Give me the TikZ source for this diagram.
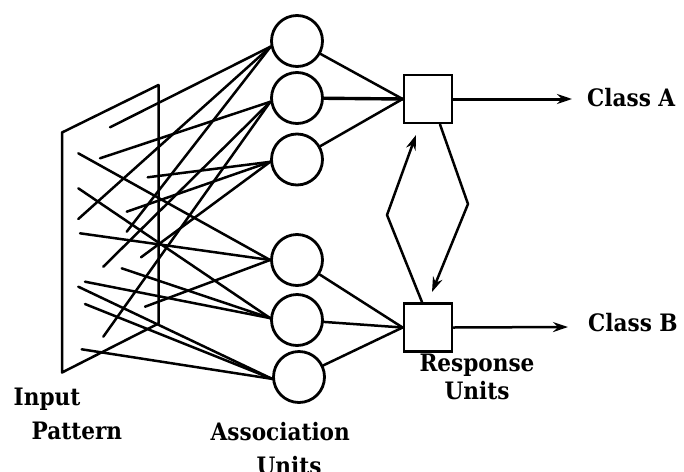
\documentclass[tikz,border=0pt]{standalone}
\usepackage{fontspec}
\setmainfont{DejaVu Serif}
\newfontfamily\labfont{DejaVu Serif}[FakeStretch=0.9]
\usetikzlibrary{arrows.meta}
\begin{document}
\begin{tikzpicture}[x=1pt,y=-1pt,
  wire/.style={line width=2.5pt, line cap=round},
  unit/.style={circle, draw, line width=2.8pt, minimum size=51pt, inner sep=0pt},
  resp/.style={rectangle, draw, line width=2.8pt, minimum size=48pt, inner sep=0pt},
  lab/.style={font=\labfont\bfseries\fontsize{24}{26}\selectfont, inner sep=0pt},
  tip/.style={-{Stealth[length=15pt,width=10pt,inset=5pt]}}]
\useasboundingbox (0,0) rectangle (684,471);

% input retina
\draw[wire, line join=round] (62,132.5) -- (158.5,85) -- (158.5,323.5) -- (62,372.5) -- cycle;

% association units
\node[unit] (c1) at (297,41) {};
\node[unit] (c2) at (297,98) {};
\node[unit] (c3) at (297,159.5) {};
\node[unit] (c4) at (297,260) {};
\node[unit] (c5) at (297,320) {};
\node[unit] (c6) at (299,377) {};

% response units
\node[resp] (r1) at (428,99) {};
\node[resp] (r2) at (428,327.5) {};

% sample points on the retina
\coordinate (p1) at (110,127.3);
\coordinate (p2) at (100,158.3);
\coordinate (p3) at (78.3,153.3);
\coordinate (p4) at (78.3,188.3);
\coordinate (p5) at (78.3,219);
\coordinate (p6) at (147.7,177.3);
\coordinate (p7) at (126.7,211.7);
\coordinate (p8) at (126.7,231.7);
\coordinate (p9) at (80,233.3);
\coordinate (p10) at (103.3,266.7);
\coordinate (p11) at (141,257.3);
\coordinate (p12) at (121.7,268.3);
\coordinate (p13) at (85,281.7);
\coordinate (p14) at (145,306.7);
\coordinate (p15) at (78.3,286.7);
\coordinate (p16) at (85,304);
\coordinate (p17) at (103.3,336.7);
\coordinate (p18) at (81.7,349.3);

% retina to association units
\draw[wire] (p1) -- (c1.192);
\draw[wire] (p5) -- (c1.192);
\draw[wire] (p8) -- (c1.192);
\draw[wire] (p2) -- (c2.188);
\draw[wire] (p10) -- (c2.188);
\draw[wire] (p17) -- (c2.188);
\draw[wire] (p6) -- (c3.185);
\draw[wire] (p7) -- (c3.185);
\draw[wire] (p11) -- (c3.185);
\draw[wire] (p3) -- (c4.180);
\draw[wire] (p9) -- (c4.180);
\draw[wire] (p14) -- (c4.180);
\draw[wire] (p4) -- (c5.176);
\draw[wire] (p12) -- (c5.176);
\draw[wire] (p13) -- (c5.176);
\draw[wire] (p15) -- (c6.184);
\draw[wire] (p16) -- (c6.184);
\draw[wire] (p18) -- (c6.184);

% association to response units
\draw[wire] (c1) -- (r1.west);
\draw[wire, line width=3.4pt] (c2) -- (r1.west);
\draw[wire] (c3) -- (r1.west);
\draw[wire] (c4) -- (r2.west);
\draw[wire] (c5) -- (r2.west);
\draw[wire] (c6) -- (r2.west);

% outputs
\coordinate (oa) at (572,99);
\coordinate (ob) at (568,327);
\draw[wire, line width=3pt, tip] (r1.east) -- (oa);
\draw[wire, tip] (r2.east) -- (ob);

% mutual inhibition loop
\coordinate (kr) at (468,204);
\coordinate (kl) at (387,215);
\draw[wire, line join=round, tip] (r1.south) ++(12,0) -- (kr) -- (432,292);
\draw[wire, line join=round, tip] (r2.north) ++(-6,0) -- (kl) -- (416,135);

% labels
\node[lab, anchor=base west] (la) at (587,106.5) {Class A};
\node[lab, anchor=base west] (lb) at (588,331.5) {Class B};
\node[lab, anchor=base west] (in1) at (13.5,405) {Input};
\node[lab, anchor=base west] (in2) at (31.5,439) {Pattern};
\node[lab, anchor=base west] (as1) at (210.5,440.5) {Association};
\node[lab, anchor=base] (as2) at (289,474) {Units};
\node[lab, anchor=base] (rs1) at (477,371) {Response};
\node[lab, anchor=base] (rs2) at (477,399) {Units};
\end{tikzpicture}
\end{document}
